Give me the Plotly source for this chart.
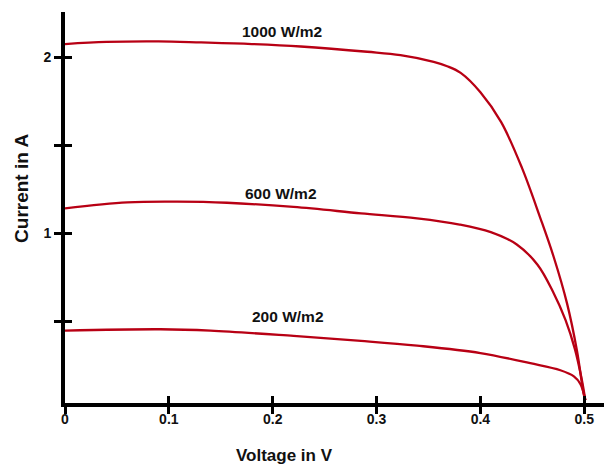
import plotly.graph_objects as go

# Voltage (V) / Current (A)
v_1000 = [0.0, 0.04, 0.09, 0.131, 0.18, 0.227, 0.291, 0.323, 0.355, 0.368, 0.381, 0.4, 0.42, 0.44, 0.4577,
          0.4705, 0.4834, 0.493, 0.4993, 0.501]
i_1000 = [2.074, 2.086, 2.089, 2.083, 2.074, 2.06, 2.03, 2.011, 1.973, 1.948, 1.91, 1.80, 1.63, 1.37, 1.085,
          0.865, 0.6, 0.33, 0.09, 0.05]

v_600 = [0.0, 0.06, 0.108, 0.156, 0.22, 0.285, 0.339, 0.38, 0.41, 0.435, 0.455, 0.47, 0.482, 0.491,
         0.4975, 0.501]
i_600 = [1.14, 1.174, 1.178, 1.172, 1.148, 1.112, 1.083, 1.048, 1.005, 0.935, 0.82, 0.665, 0.505, 0.34,
         0.17, 0.05]

v_200 = [0.0, 0.092, 0.14, 0.22, 0.285, 0.339, 0.4, 0.448, 0.477, 0.49, 0.4965, 0.501]
i_200 = [0.445, 0.453, 0.445, 0.415, 0.387, 0.36, 0.318, 0.26, 0.22, 0.185, 0.14, 0.05]

series_names = ["1000 W/m2", "600 W/m2", "200 W/m2"]
label_x = [0.2087, 0.2077, 0.215]
label_y = [2.148, 1.227, 0.528]

x_ticks = [0, 0.1, 0.2, 0.3, 0.4, 0.5]
x_tick_text = ["0", "0.1", "0.2", "0.3", "0.4", "0.5"]
y_ticks = [0.5, 1, 1.5, 2]
y_tick_text = ["", "1", "", "2"]

RED = "#b80014"
FONT = "Liberation Sans, Arial, sans-serif"
TXT = "#111111"

fig = go.Figure()
for vx, iy, nm in zip([v_1000, v_600, v_200], [i_1000, i_600, i_200], series_names):
    fig.add_trace(go.Scatter(x=vx, y=iy, mode="lines", name=nm,
                             line=dict(color=RED, width=2.3, shape="spline", smoothing=1.0),
                             showlegend=False, hoverinfo="skip"))

for nm, lx, ly in zip(series_names, label_x, label_y):
    fig.add_annotation(x=lx, y=ly, xref="x", yref="y", text=nm, showarrow=False,
                       font=dict(family=FONT, size=15.5, color=TXT, weight="bold"))

fig.add_annotation(x=0.408, y=-0.1355, xref="paper", yref="paper", text="Voltage in V",
                   showarrow=False, xanchor="center", yanchor="middle",
                   font=dict(family=FONT, size=17, color=TXT, weight="bold"))
fig.add_annotation(x=-0.0798, y=0.55, xref="paper", yref="paper", text="Current in A",
                   showarrow=False, xanchor="center", yanchor="middle", textangle=-90,
                   font=dict(family=FONT, size=19, color=TXT, weight="bold"))

xr = [0, 0.519]
yr = [0.034, 2.256]

axis_common = dict(showgrid=False, zeroline=False, tickcolor="black", tickwidth=3, ticklen=7)
tick_font = dict(family=FONT, size=14, color=TXT, weight="bold")

fig.update_layout(
    width=604, height=468,
    margin=dict(l=65, r=0, t=12, b=65),
    paper_bgcolor="white", plot_bgcolor="white",
    xaxis=dict(range=xr, tickvals=x_ticks, ticks="outside", showticklabels=False,
               showline=True, linecolor="black", linewidth=4, **axis_common),
    yaxis=dict(range=yr, tickvals=y_ticks, ticktext=y_tick_text, ticks="outside",
               showline=True, linecolor="black", linewidth=4,
               tickfont=tick_font, **axis_common),
    xaxis2=dict(range=xr, overlaying="x", matches="x", anchor="y", side="bottom",
                tickvals=x_ticks, ticktext=x_tick_text, ticks="inside", showticklabels=True,
                tickfont=tick_font, ticklabelstandoff=6, showline=False, **axis_common),
    yaxis2=dict(range=yr, overlaying="y", matches="y", anchor="x", side="left",
                tickvals=y_ticks, ticks="inside", showticklabels=False, showline=False,
                **axis_common),
)

# invisible helper trace so the overlay axes render
fig.add_trace(go.Scatter(x=[None], y=[None], xaxis="x2", yaxis="y2", mode="lines",
                         showlegend=False, hoverinfo="skip"))

fig.write_html("out.html")
